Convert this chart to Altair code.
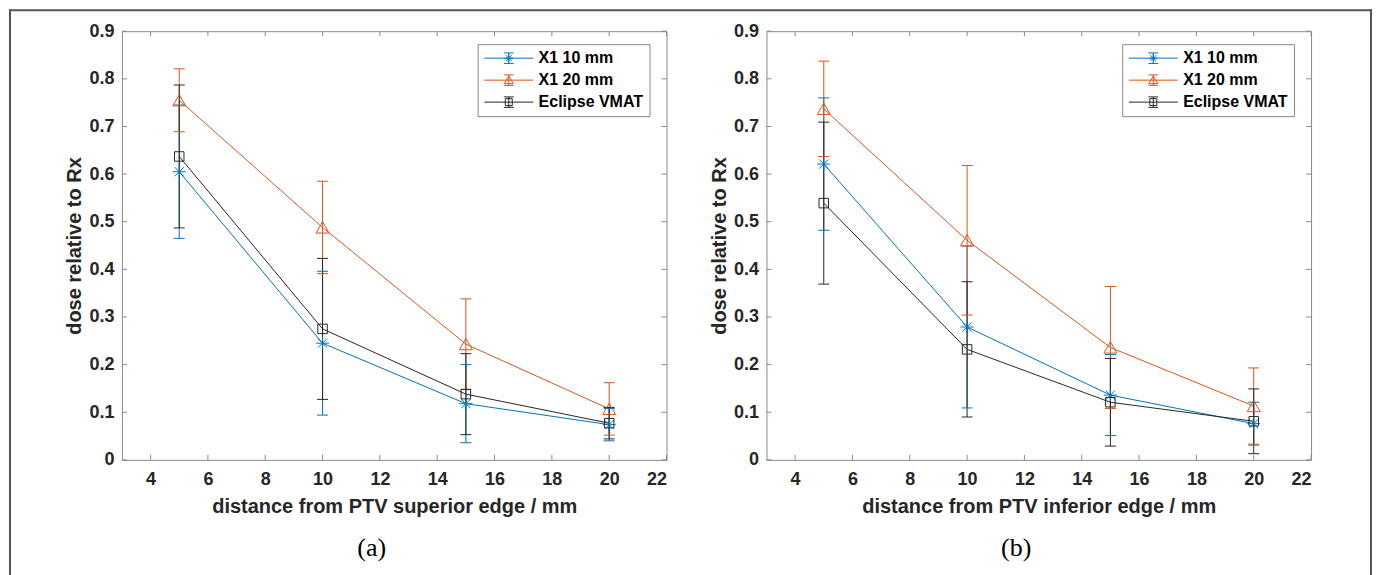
import altair as alt
import pandas as pd

# ---------------- data ----------------
distance = [5, 10, 15, 20]
series = ["X1 10 mm", "X1 20 mm", "Eclipse VMAT"]
colors = ["#0072BD", "#D95319", "#262626"]

# panel (a): distance from PTV superior edge
sup_x1_10 = [0.605, 0.245, 0.118, 0.074]
sup_x1_10_err = [0.140, 0.151, 0.082, 0.034]
sup_x1_20 = [0.755, 0.488, 0.243, 0.107]
sup_x1_20_err = [0.066, 0.097, 0.095, 0.055]
sup_vmat = [0.637, 0.275, 0.138, 0.077]
sup_vmat_err = [0.150, 0.148, 0.085, 0.033]

# panel (b): distance from PTV inferior edge
inf_x1_10 = [0.621, 0.279, 0.136, 0.076]
inf_x1_10_err = [0.139, 0.170, 0.085, 0.045]
inf_x1_20 = [0.737, 0.461, 0.236, 0.113]
inf_x1_20_err = [0.100, 0.157, 0.128, 0.080]
inf_vmat = [0.539, 0.232, 0.121, 0.081]
inf_vmat_err = [0.170, 0.142, 0.092, 0.068]

x_ticks = [4, 6, 8, 10, 12, 14, 16, 18, 20, 22]
y_ticks = [0, 0.1, 0.2, 0.3, 0.4, 0.5, 0.6, 0.7, 0.8, 0.9]

x_title_a = "distance from PTV superior edge / mm"
x_title_b = "distance from PTV inferior edge / mm"
y_title = "dose relative to Rx"

# ---------------- styles ----------------
W, H = 545, 429
AX_GRAY = "#8a8a8a"
ASTERISK = "M-1,0L1,0M0,-1L0,1M-0.7,-0.7L0.7,0.7M-0.7,0.7L0.7,-0.7"
marker_shapes = [ASTERISK, "triangle-up", "square"]
marker_sizes = [169, 169, 90]

LINE = "M-1.05,0L5.95,0"
EBAR = "M2.45,-0.75L2.45,0.75M1.75,-0.75L3.15,-0.75M1.75,0.75L3.15,0.75"
legend_paths = [
    LINE + EBAR + "M1.85,0L3.05,0M2.45,-0.6L2.45,0.6M2.03,-0.42L2.87,0.42M2.03,0.42L2.87,-0.42",
    LINE + EBAR + "M2.45,-0.6L3.1,0.5L1.8,0.5Z",
    LINE + EBAR + "M1.95,-0.5L2.95,-0.5L2.95,0.5L1.95,0.5Z",
]


def build_df(vals, errs):
    rows = []
    for s, v, e in zip(series, vals, errs):
        for x, y, err in zip(distance, v, e):
            rows.append({"series": s, "x": x, "y": y, "lo": y - err, "hi": y + err})
    return pd.DataFrame(rows)


df_a = build_df([sup_x1_10, sup_x1_20, sup_vmat], [sup_x1_10_err, sup_x1_20_err, sup_vmat_err])
df_b = build_df([inf_x1_10, inf_x1_20, inf_vmat], [inf_x1_10_err, inf_x1_20_err, inf_vmat_err])

xscale = alt.Scale(domain=[3, 22], nice=False, zero=False)
yscale = alt.Scale(domain=[0, 0.9], nice=False, zero=False)


def X(field, xtitle):
    return alt.X(f"{field}:Q", scale=xscale, axis=alt.Axis(values=x_ticks, title=xtitle))


def Y(field):
    return alt.Y(f"{field}:Q", scale=yscale,
                 axis=alt.Axis(values=y_ticks, format=".1~f", title=y_title))


def panel(df, xtitle, caption, with_frame):
    base = alt.Chart(df)
    color = alt.Color("series:N", scale=alt.Scale(domain=series, range=colors), legend=None)

    leg = alt.Legend(
        title=None, orient="none", legendX=356, legendY=13, padding=6,
        fillColor="white", strokeColor=AX_GRAY, cornerRadius=0,
        labelFont="Liberation Sans", labelFontSize=16, labelFontWeight="bold",
        labelColor="black", labelOffset=39, labelLimit=400, rowPadding=6,
        symbolSize=196, symbolStrokeWidth=1, symbolFillColor="transparent",
    )
    # legend-only layer (no marks drawn): line + error bar + marker symbols
    legend_layer = (
        base.transform_filter("false")
        .mark_point(filled=False, strokeWidth=1, size=196, opacity=1)
        .encode(
            x=X("x", xtitle), y=Y("y"),
            color=alt.Color("series:N", scale=alt.Scale(domain=series, range=colors), legend=leg),
            shape=alt.Shape("series:N", scale=alt.Scale(domain=series, range=legend_paths), legend=leg),
        )
    )

    lines = base.mark_line(strokeWidth=1).encode(x=X("x", xtitle), y=Y("y"), color=color)
    bars = base.mark_rule(strokeWidth=1).encode(
        x=X("x", xtitle), y=Y("lo"), y2="hi:Q", color=color)
    cap_hi = base.mark_rule(strokeWidth=1, xOffset=-5.5, x2Offset=5.5).encode(
        x=X("x", xtitle), x2="x:Q", y=Y("hi"), color=color)
    cap_lo = base.mark_rule(strokeWidth=1, xOffset=-5.5, x2Offset=5.5).encode(
        x=X("x", xtitle), x2="x:Q", y=Y("lo"), color=color)

    points = []
    for s, shp, sz in zip(series, marker_shapes, marker_sizes):
        points.append(
            base.transform_filter(alt.datum.series == s)
            .mark_point(shape=shp, size=sz, filled=False, strokeWidth=1, opacity=1)
            .encode(x=X("x", xtitle), y=Y("y"), color=color)
        )

    # inward ticks on all four sides (MATLAB box style)
    xt = alt.Chart(pd.DataFrame({"v": x_ticks}))
    yt = alt.Chart(pd.DataFrame({"v": y_ticks}))
    tick_b = xt.mark_rule(color=AX_GRAY, strokeWidth=1).encode(
        x=X("v", xtitle), y=alt.value(H), y2=alt.value(H - 5))
    tick_t = xt.mark_rule(color=AX_GRAY, strokeWidth=1).encode(
        x=X("v", xtitle), y=alt.value(0), y2=alt.value(5))
    tick_l = yt.mark_rule(color=AX_GRAY, strokeWidth=1).encode(
        y=Y("v"), x=alt.value(0), x2=alt.value(5))
    tick_r = yt.mark_rule(color=AX_GRAY, strokeWidth=1).encode(
        y=Y("v"), x=alt.value(W), x2=alt.value(W - 5))

    cap = alt.Chart(pd.DataFrame({"cap": [caption]})).mark_text(
        font="Liberation Serif", fontSize=26, color="black", baseline="middle", align="center"
    ).encode(text="cap:N", x=alt.value(250), y=alt.value(517))

    layers = [legend_layer, tick_b, tick_t, tick_l, tick_r, lines, bars, cap_hi, cap_lo] + points + [cap]

    if with_frame:
        fr = alt.Chart(pd.DataFrame({"k": [0]}))
        f_left = fr.mark_rule(color="#555555", strokeWidth=2, strokeCap="square").encode(
            x=alt.value(-112), y=alt.value(-21), y2=alt.value(544))
        f_top = fr.mark_rule(color="#555555", strokeWidth=2, strokeCap="square").encode(
            x=alt.value(-112), x2=alt.value(1250), y=alt.value(-21))
        f_right = fr.mark_rule(color="#555555", strokeWidth=2, strokeCap="square").encode(
            x=alt.value(1250), y=alt.value(-21), y2=alt.value(544))
        layers += [f_left, f_top, f_right]

    return alt.layer(*layers).properties(width=W, height=H)


left = panel(df_a, x_title_a, "(a)", True)
right = panel(df_b, x_title_b, "(b)", False)

chart = (
    alt.hconcat(left, right, spacing=100, bounds="flush")
    .resolve_scale(color="independent", shape="independent")
    .properties(padding=0, background="white")
    .configure_view(stroke=AX_GRAY, strokeWidth=1)
    .configure_axis(
        domain=False, ticks=False, tickSize=0, grid=False,
        labelFont="Liberation Sans", labelFontSize=18, labelFontWeight="bold", labelColor="#262626",
        titleFont="Liberation Sans", titleFontSize=20, titleFontWeight="bold", titleColor="#262626",
    )
    .configure_axisX(labelPadding=11, titlePadding=8)
    .configure_axisY(labelPadding=8, titlePadding=4)
)

chart.save("out.html", embed_options={"renderer": "svg", "actions": False})
